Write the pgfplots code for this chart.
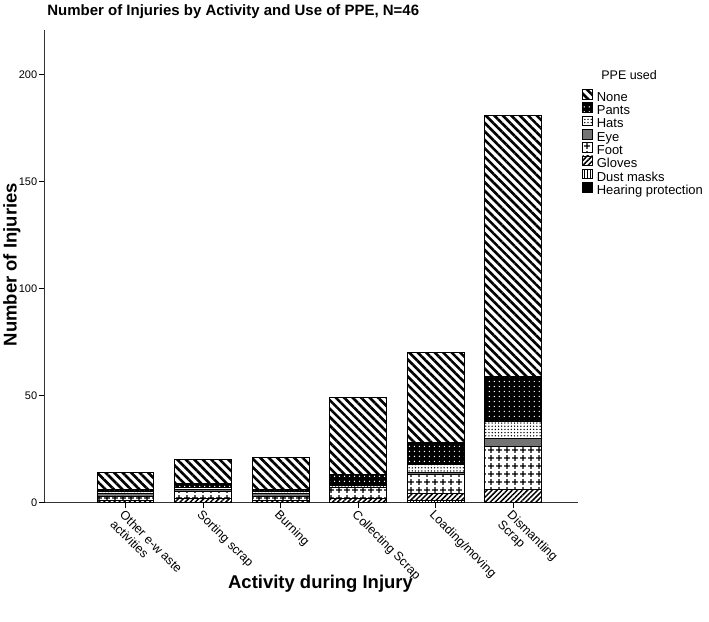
\documentclass[border=0pt]{standalone}
\usepackage{fontspec}
\setmainfont{Liberation Sans}
\usepackage{pgfplots}
\pgfplotsset{compat=1.18}
\usetikzlibrary{patterns,patterns.meta}

\tikzdeclarepattern{
  name=PlusSigns,
  type=uncolored,
  bounding box={(0pt,0pt) and (8pt,8pt)},
  tile size={(8pt,8pt)},
  code={
    \draw[line width=1.1pt] (4pt,1.2pt) -- (4pt,6.8pt) (1.2pt,4pt) -- (6.8pt,4pt);
  }
}

\begin{document}
\begin{tikzpicture}
\path (-44pt,-119pt) rectangle (665pt,503pt);
\begin{axis}[
  scale only axis,
  width=534pt, height=473pt,
  ybar stacked,
  bar width=0.73,
  xmin=-1.04, xmax=5.84,
  ymin=0, ymax=221,
  axis x line*=bottom,
  axis y line*=left,
  axis line style={line width=0.8pt, black!80},
  xtick={0,1,2,3,4,5},
  xticklabels={{Other e-w aste\\activities},{Sorting scrap},{Burning},{Collecting Scrap},{Loading/moving},{Dismantling\\Scrap}},
  ytick={0,50,100,150,200},
  tick align=outside,
  tick style={black, line width=0.8pt},
  major tick length=6pt,
  x tick label style={rotate=-45, anchor=north west, align=left, font=\fontsize{12.5}{13.5}\selectfont, inner sep=0.5pt},
  y tick label style={font=\fontsize{11}{12}\selectfont, inner sep=1.5pt},
  /pgf/number format/assume math mode=true,
  reverse legend,
  legend style={at={(axis description cs:1.0075,0.875)}, anchor=north west, draw=none, fill=none,
    font=\fontsize{13}{14}\selectfont, row sep=-1.4pt, inner sep=0pt,
    nodes={text height=9pt, text depth=2.5pt, inner sep=0pt},
    /tikz/every odd column/.append style={column sep=4pt}},
  legend cell align=left,
  every axis plot/.append style={draw=black, line width=0.6pt,
    legend image code/.code={\draw[##1, line width=0.5pt] (0pt,-0.8pt) rectangle (10pt,8.7pt);}},
]
% Hearing protection
\addplot[fill=black] coordinates {(0,0) (1,0) (2,0) (3,0) (4,0) (5,0)};
% Dust masks
\addplot[pattern={Lines[angle=90, distance=3pt, line width=1pt]}, pattern color=black] coordinates {(0,0) (1,0) (2,0) (3,0) (4,1) (5,0)};
% Gloves
\addplot[pattern={Lines[angle=45, distance=3.6pt, line width=1.5pt]}, pattern color=black] coordinates {(0,1) (1,2) (2,1) (3,2) (4,3) (5,6)};
% Foot
\addplot[pattern=PlusSigns, pattern color=black] coordinates {(0,2) (1,3) (2,2) (3,5) (4,9) (5,20)};
% Eye
\addplot[fill=black!55] coordinates {(0,1) (1,1) (2,1) (3,0) (4,1) (5,4)};
% Hats
\addplot[pattern={Dots[distance=3.2pt, radius=0.75pt]}, pattern color=black] coordinates {(0,1) (1,1) (2,1) (3,1) (4,4) (5,8)};
% Pants
\addplot[preaction={fill=black}, pattern={Dots[distance=5pt, radius=0.7pt]}, pattern color=white] coordinates {(0,1) (1,2) (2,1) (3,5) (4,10) (5,21)};
% None
\addplot[pattern={Lines[angle=-45, distance=6pt, line width=2.6pt]}, pattern color=black] coordinates {(0,8) (1,11) (2,15) (3,36) (4,42) (5,122)};
\legend{Hearing protection,Dust masks,Gloves,Foot,Eye,Hats,Pants,None}
\end{axis}
\node[anchor=west, font=\fontsize{15}{18}\selectfont\bfseries] at (-1pt,491pt) {Number of Injuries by Activity and Use of PPE, N=46};
\node[rotate=90, font=\fontsize{18.5}{21}\selectfont\bfseries] at (-33pt,238pt) {Number of Injuries};
\node[font=\fontsize{18.5}{21}\selectfont\bfseries] at (276pt,-82pt) {Activity during Injury};
\node[font=\fontsize{12.5}{14}\selectfont] at (585pt,428pt) {PPE used};
\end{tikzpicture}
\end{document}
